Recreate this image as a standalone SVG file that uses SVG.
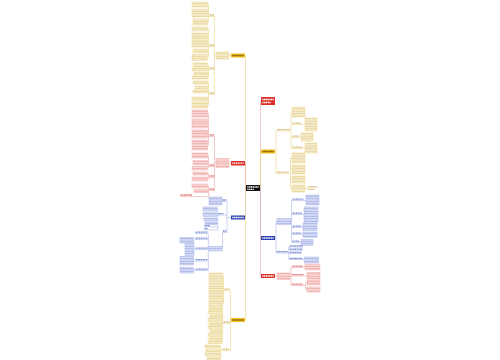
<svg xmlns="http://www.w3.org/2000/svg" width="500" height="360" viewBox="0 0 500 360">
<defs>
<pattern id="py" width="2" height="2.5" patternUnits="userSpaceOnUse"><rect width="2" height="2.5" fill="#fdf8e3"/><rect x=".25" y=".55" width="1.5" height="1.4" fill="#c9a345" opacity=".6"/></pattern>
<pattern id="pr" width="2" height="2.5" patternUnits="userSpaceOnUse"><rect width="2" height="2.5" fill="#fdefef"/><rect x=".25" y=".55" width="1.5" height="1.4" fill="#d9534f" opacity=".6"/></pattern>
<pattern id="pb" width="2" height="2.5" patternUnits="userSpaceOnUse"><rect width="2" height="2.5" fill="#eef1fd"/><rect x=".25" y=".55" width="1.5" height="1.4" fill="#4a62c8" opacity=".6"/></pattern>
<pattern id="ty" width="2" height="2.5" patternUnits="userSpaceOnUse"><rect x=".25" y=".55" width="1.5" height="1.4" fill="#c9a345" opacity=".6"/></pattern>
</defs>
<style>
.y{fill:url(#py);stroke:#eed98f;stroke-width:.5}
.r{fill:url(#pr);stroke:#f1aeac;stroke-width:.5}
.b{fill:url(#pb);stroke:#a9b5ea;stroke-width:.5}
.c{fill:none;stroke-width:.6}
.cy{stroke:#ecd486}.cr{stroke:#eea4a2}.cb{stroke:#a6b2e8}
.l{fill:none;stroke-width:1.3;stroke-dasharray:1.3 .45}
.ly{stroke:#c7a24a;opacity:.75}.lr{stroke:#d44a46;opacity:.75}.lb{stroke:#4660c6;opacity:.75}
.lw{stroke:#fff}.lk{stroke:#5a4300;opacity:.8}
.n1y{fill:#f4c01e}.n1r{fill:#d8322a}.n1b{fill:#2a3fb0}
</style>
<rect width="500" height="360" fill="#fff"/>

<g id="connectors">
<path class="c cy" d="M246,188 H245.5 V55.5 H245"/>
<path class="c cr" d="M246,188 H245.5 V163.2 H245"/>
<path class="c cb" d="M246,188 H245.5 V217.5 H245"/>
<path class="c cy" d="M246,188 H245.5 V320 H245"/>
<path class="c cr" d="M260,188 H260.5 V101 H261"/>
<path class="c cy" d="M260,188 H260.5 V151.5 H261"/>
<path class="c cb" d="M260,188 H260.5 V238 H261"/>
<path class="c cr" d="M260,188 H260.5 V276 H261"/>

<path class="c cy" d="M231,55.5 H229 M216,55.5 H214.5 M214.5,16.5 V94.5 M209,16.5 H214.5 M209,46.5 H214.5 M209,69.5 H214.5 M209,94.5 H214.5"/>
<path class="c cy" d="M207.5,4.5 H208.5 V22 H207.5 M208.5,13 H207.5 M208.5,16.5 H209"/>
<path class="c cy" d="M207.5,29 H208.5 V57.5 H207.5 M208.5,36 H207.5 M208.5,43.5 H207.5 M208.5,51 H207.5 M208.5,46.5 H209"/>
<path class="c cy" d="M207.5,65 H208.5 V77.5 H207.5 M208.5,69.5 H207.5 M208.5,73.5 H207.5 M208.5,69.5 H209"/>
<path class="c cy" d="M207.5,82.5 H208.5 V105 H207.5 M208.5,87.5 H207.5 M208.5,91.5 H207.5 M208.5,99 H207.5 M208.5,94.5 H209"/>

<path class="c cr" d="M231,163 H229 M216,163 H214.5 M214.5,136.5 V190.5 M209,136.5 H214.5 M209,166.5 H214.5 M209,177.5 H214.5 M209,190.5 H214.5"/>
<path class="c cr" d="M207.5,113.5 H208.5 V145 H207.5 M208.5,123.5 H207.5 M208.5,134 H207.5 M208.5,136.5 H209"/>
<path class="c cr" d="M207.5,155.5 H208.5 V168.2 H207.5 M208.5,162.7 H207.5 M208.5,166.5 H209"/>
<path class="c cr" d="M207.5,173.5 H208.5 V179 H207.5 M208.5,177.5 H209"/>
<path class="c cr" d="M207.5,186 H208.5 V196.4 M208.5,191 H207.5 M208.5,190.5 H209 M180,196.4 H208.5"/>

<path class="c cb" d="M231,217.5 H227 M227,201.5 V232.5 M222,201.5 H227 M218,215 H227 M222.5,232.5 H227"/>
<path class="c cb" d="M217,209 H217.8 V229.8 M217.8,214.5 H217 M217.8,219.5 H217 M217.8,223.3 H217 M217.8,215 H218 M204,226.8 H217.8 M204,229.8 H217.8"/>
<path class="c cb" d="M222.5,232.5 V248.7 H222 M209,248.7 H208.3 M208.3,233.5 V270.5 M195,233.5 H208.3 M195,239.5 H208.3 M195,249.5 H208.3 M195,261 H208.3 M195,270.5 H208.3"/>
<path class="c cb" d="M193.5,240 H195 M194,249.5 H195 M193.5,261 H195 M193.5,270.3 H195"/>

<path class="c cy" d="M231,320 H230.5 M230.5,290.5 V350.5 M224,290.5 H230.5 M223,323.3 H230.5 M222,350.5 H230.5"/>
<path class="c cy" d="M223,276.8 H223.6 V302.2 H223 M223.6,285.2 H223 M223.6,293.8 H223 M223.6,290.5 H224"/>
<path class="c cy" d="M222,308 H222.6 V342.2 H222 M222.6,311.8 H222 M222.6,315.6 H222 M222.6,319.4 H222 M222.6,323.2 H222 M222.6,327 H222 M222.6,330.8 H222 M222.6,334.6 H222 M222.6,338.4 H222 M222.6,323.3 H223"/>
<path class="c cy" d="M220,346.5 H221 V358.4 H220 M221,350.5 H220 M221,354.5 H220 M221,350.5 H222"/>

<path class="c cy" d="M275,151.5 H276 M276,131 V173.5 M276,131 H291 M291,112 V148.5 M291,112 H292 M291,124.5 H302 M302,124.5 H305 M291,137.5 H299.5 M299.5,137.5 H301 M291,148.5 H303 M303,148.5 H305"/>
<path class="c cy" d="M276,173.5 H290.5 M290.5,158 V188.5 M290.5,158 H292 M290.5,169.5 H292 M290.5,179.5 H292 M290.5,188.5 H292 M305,188.5 H307"/>

<path class="c cb" d="M275,238 H276 M276,221.5 V253 M276,221.5 H277 M276,253 H288 M291,221.5 H291.6 M291.6,200.5 V242.5"/>
<path class="c cb" d="M291.6,200.5 H304 M304,200.5 H306 M291.6,214.5 H302.5 M302.5,214.5 H304 M291.6,227.5 H302 M302,227 H303 M291.6,234.5 H302 M302,234.8 H303 M291.6,242.5 H300 M300,242.3 H301"/>
<path class="c cb" d="M288,253 H288.8 M288.8,247 V259.5 M288.8,247 H303 M288.8,250.2 H303 M288.8,253.4 H302 M288.8,259.5 H303 M303,259.8 H304.5"/>

<path class="c cr" d="M275,276 H277 M290,276 H291 M291,267.5 V285.5 M291,267.5 H303.5 M303.5,267 H305 M291,276 H304 M304,275.8 H307 M291,285.5 H305.5 M305.5,282.5 V289.5 H307 M305.5,282.5 H307"/>
</g>

<g id="root"><rect x="246" y="185" width="14" height="6" fill="#111"/><path class="l lw" d="M247.3,187 H258.7 M247.3,189.3 H254"/></g>

<g id="n-yl1"><rect class="n1y" x="231" y="53.5" width="14" height="4"/><path class="l lk" d="M232.3,55.5 H243.7"/></g>
<g id="n-yl1a"><rect class="y" x="216" y="52" width="13" height="7"/></g>
<g id="lab-yl1a"><path class="l ly" d="M209.5,15 H214"/></g>
<g id="lab-yl1b"><path class="l ly" d="M209.5,45 H214"/></g>
<g id="lab-yl1c"><path class="l ly" d="M209.5,68 H214"/></g>
<g id="lab-yl1d"><path class="l ly" d="M209.5,93 H214"/></g>
<g id="yl1-leaves">
<g id="yl1-01"><rect class="y" x="192" y="2" width="15.5" height="5"/></g>
<g id="yl1-02"><rect class="y" x="192" y="9" width="15.5" height="8"/></g>
<g id="yl1-03"><rect class="y" x="193" y="19" width="14.5" height="6"/></g>
<g id="yl1-04"><rect class="y" x="192" y="27" width="15.5" height="4"/></g>
<g id="yl1-05"><rect class="y" x="192" y="33" width="15.5" height="6"/></g>
<g id="yl1-06"><rect class="y" x="192" y="40" width="15.5" height="7"/></g>
<g id="yl1-07"><rect class="y" x="193" y="49" width="14.5" height="4"/></g>
<g id="yl1-08"><rect class="y" x="192" y="54.5" width="15.5" height="6"/></g>
<g id="yl1-09"><rect class="y" x="193" y="63" width="14.5" height="4"/></g>
<g id="yl1-10"><rect class="y" x="192" y="68" width="15.5" height="3"/></g>
<g id="yl1-11"><rect class="y" x="194" y="72" width="13.5" height="3"/></g>
<g id="yl1-12"><rect class="y" x="192" y="76" width="15.5" height="3"/></g>
<g id="yl1-13"><rect class="y" x="193" y="81" width="14.5" height="3"/></g>
<g id="yl1-14"><rect class="y" x="195" y="86" width="12.5" height="3"/></g>
<g id="yl1-15"><rect class="y" x="193" y="90" width="14.5" height="3"/></g>
<g id="yl1-16"><rect class="y" x="192" y="97" width="15.5" height="4"/></g>
<g id="yl1-17"><rect class="y" x="192" y="102" width="15.5" height="6"/></g>
</g>

<g id="n-rl1"><rect class="n1r" x="231" y="161" width="14" height="4.5"/><path class="l lw" d="M232.3,163.2 H243.7"/></g>
<g id="n-rl1a"><rect class="r" x="216" y="158.5" width="13" height="9"/></g>
<g id="lab-rl1a"><path class="l lr" d="M209.5,135 H214"/></g>
<g id="lab-rl1b"><path class="l lr" d="M209.5,165 H214"/></g>
<g id="lab-rl1c"><path class="l lr" d="M209.5,176 H214"/></g>
<g id="lab-rl1d"><path class="l lr" d="M209.5,189 H214"/></g>
<g id="lab-rl1e"><path class="l lr" d="M180.5,195 H192"/></g>
<g id="rl1-leaves">
<g id="rl1-01"><rect class="r" x="192" y="110" width="15.5" height="7"/></g>
<g id="rl1-02"><rect class="r" x="192" y="119" width="15.5" height="9"/></g>
<g id="rl1-03"><rect class="r" x="192" y="130" width="15.5" height="8"/></g>
<g id="rl1-04"><rect class="r" x="192" y="140" width="15.5" height="10"/></g>
<g id="rl1-05"><rect class="r" x="192" y="153" width="15.5" height="5"/></g>
<g id="rl1-06"><rect class="r" x="193" y="160.5" width="14.5" height="4.5"/></g>
<g id="rl1-07"><rect class="r" x="192" y="166.5" width="15.5" height="3.5"/></g>
<g id="rl1-08"><rect class="r" x="193" y="172" width="14.5" height="3"/></g>
<g id="rl1-09"><rect class="r" x="192" y="177" width="15.5" height="4"/></g>
<g id="rl1-10"><rect class="r" x="192" y="184" width="15.5" height="4"/></g>
<g id="rl1-11"><rect class="r" x="194" y="189.5" width="13.5" height="3"/></g>
</g>

<g id="n-bl1"><rect class="n1b" x="231" y="215.5" width="14" height="4"/><path class="l lw" d="M232.3,217.5 H243.7"/></g>
<g id="lab-bl1a"><path class="l lb" d="M222.5,200 H226.5"/></g>
<g id="lab-bl1b"><path class="l lb" d="M218.5,213.6 H223.5"/></g>
<g id="lab-bl1c"><path class="l lb" d="M223,231 H226.5"/></g>
<g id="bl1-a1"><rect class="b" x="209" y="197" width="13" height="8"/></g>
<g id="bl1-b1"><rect class="b" x="203" y="207" width="14" height="4"/></g>
<g id="bl1-b2"><rect class="b" x="203" y="212.8" width="14" height="3.5"/></g>
<g id="bl1-b3"><rect class="b" x="204" y="218" width="13" height="3"/></g>
<g id="bl1-b4"><rect class="b" x="205" y="222" width="12" height="2.6"/></g>
<g id="bl1-b5"><path class="l lb" d="M204.5,225.6 H210"/></g>
<g id="bl1-b6"><path class="l lb" d="M204.5,228.6 H208"/></g>
<g id="bl1-c1"><rect class="b" x="209" y="246.5" width="13" height="4.5"/></g>
<g id="bl1-c1a"><path class="l lb" d="M195.5,232.2 H207.5"/></g>
<g id="bl1-c1b"><path class="l lb" d="M195.5,238.2 H207.5"/></g>
<g id="bl1-c1c"><path class="l lb" d="M195.5,248.2 H207.5"/></g>
<g id="bl1-c1d"><path class="l lb" d="M195.5,259.7 H207.5"/></g>
<g id="bl1-c1e"><path class="l lb" d="M195.5,269.2 H207.5"/></g>
<g id="bl1-d1"><rect class="b" x="180" y="237.5" width="13.5" height="5.5"/></g>
<g id="bl1-d2"><rect class="b" x="185" y="243.5" width="9" height="12"/></g>
<g id="bl1-d3"><rect class="b" x="180" y="256.5" width="13.5" height="8.5"/></g>
<g id="bl1-d4"><rect class="b" x="180" y="267.5" width="13.5" height="5.5"/></g>

<g id="n-yl2"><rect class="n1y" x="231" y="318" width="14" height="4"/><path class="l lk" d="M232.3,320 H243.7"/></g>
<g id="lab-yl2a"><path class="l ly" d="M224.5,289.2 H229.5"/></g>
<g id="lab-yl2b"><path class="l ly" d="M223.5,322 H229.5"/></g>
<g id="lab-yl2c"><path class="l ly" d="M222.5,349.2 H229.5"/></g>
<g id="yl2-leaves">
<g id="yl2-01"><rect class="y" x="209" y="273" width="14" height="7.5"/></g>
<g id="yl2-02"><rect class="y" x="209" y="281.5" width="14" height="7.5"/></g>
<g id="yl2-03"><rect class="y" x="209" y="290" width="14" height="7.5"/></g>
<g id="yl2-04"><rect class="y" x="209" y="298.5" width="14" height="7.5"/></g>
<g id="yl2-05"><rect class="y" x="209" y="306.5" width="13" height="3"/></g>
<g id="yl2-06"><rect class="y" x="208" y="310.3" width="14" height="3"/></g>
<g id="yl2-07"><rect class="y" x="210" y="314.1" width="12" height="3"/></g>
<g id="yl2-08"><rect class="y" x="208" y="317.9" width="14" height="3"/></g>
<g id="yl2-09"><rect class="y" x="209" y="321.7" width="13" height="3"/></g>
<g id="yl2-10"><rect class="y" x="208" y="325.5" width="14" height="3"/></g>
<g id="yl2-11"><rect class="y" x="210" y="329.3" width="12" height="3"/></g>
<g id="yl2-12"><rect class="y" x="208" y="333.1" width="14" height="3"/></g>
<g id="yl2-13"><rect class="y" x="209" y="336.9" width="13" height="3"/></g>
<g id="yl2-14"><rect class="y" x="208" y="340.7" width="14" height="3"/></g>
<g id="yl2-15"><rect class="y" x="205" y="345" width="15" height="3"/></g>
<g id="yl2-16"><rect class="y" x="206" y="349" width="14" height="3"/></g>
<g id="yl2-17"><rect class="y" x="205" y="353" width="15" height="3"/></g>
<g id="yl2-18"><rect class="y" x="207" y="357" width="13" height="2.8"/></g>
</g>

<g id="n-rr1"><rect class="n1r" x="261" y="97" width="14" height="8"/><path class="l lw" d="M262.3,99.5 H273.7 M262.3,102.5 H271"/></g>

<g id="n-yr1"><rect class="n1y" x="261" y="149.5" width="14" height="4"/><path class="l lk" d="M262.3,151.5 H273.7"/></g>
<g id="lab-yr1a"><path class="l ly" d="M277,129.6 H290"/></g>
<g id="lab-yr1b"><path class="l ly" d="M277,172.2 H288.5"/></g>
<g id="yr1-a1"><rect class="y" x="292" y="107" width="13" height="10"/></g>
<g id="lab-yr1a2"><path class="l ly" d="M292.5,123.2 H301.5"/></g>
<g id="yr1-a2"><rect class="y" x="305" y="118" width="12" height="13"/></g>
<g id="lab-yr1a3"><path class="l ly" d="M292.5,136.2 H299"/></g>
<g id="yr1-a3"><rect class="y" x="301" y="133" width="12" height="8"/></g>
<g id="lab-yr1a4"><path class="l ly" d="M292.5,147.2 H302.5"/></g>
<g id="yr1-a4"><rect class="y" x="305" y="143" width="12" height="10"/></g>
<g id="yr1-b1"><rect class="y" x="292" y="153" width="13" height="10"/></g>
<g id="yr1-b2"><rect class="y" x="292" y="165" width="13" height="9"/></g>
<g id="yr1-b3"><rect class="y" x="292" y="176" width="13" height="7"/></g>
<g id="yr1-b4"><rect class="y" x="292" y="185" width="13" height="7"/></g>
<g id="yr1-b5"><path class="l ly" d="M307.5,186.8 H318 M307.5,189.4 H315"/></g>

<g id="n-br1"><rect class="n1b" x="261" y="236" width="14" height="4"/><path class="l lw" d="M262.3,238 H273.7"/></g>
<g id="br1-a"><rect class="b" x="277" y="218.5" width="14" height="6"/></g>
<g id="lab-br1b"><path class="l lb" d="M277,251.7 H288"/></g>
<g id="lab-br1a1"><path class="l lb" d="M292.5,199.2 H303.5"/></g>
<g id="br1-a1"><rect class="b" x="306" y="195" width="13" height="10"/></g>
<g id="lab-br1a2"><path class="l lb" d="M292.5,213.2 H302"/></g>
<g id="br1-a2"><rect class="b" x="304" y="207" width="14" height="15"/></g>
<g id="lab-br1a3"><path class="l lb" d="M292.5,226.2 H301.5"/></g>
<g id="br1-a3"><rect class="b" x="303" y="223" width="14" height="8"/></g>
<g id="lab-br1a4"><path class="l lb" d="M292.5,233.2 H301.5"/></g>
<g id="br1-a4"><rect class="b" x="303" y="232.3" width="14" height="5"/></g>
<g id="lab-br1a5"><path class="l lb" d="M292.5,241.2 H299.5"/></g>
<g id="br1-a5"><rect class="b" x="301" y="239.3" width="12" height="6"/></g>
<g id="lab-br1b1"><path class="l lb" d="M289.5,245.9 H302.5"/></g>
<g id="lab-br1b2"><path class="l lb" d="M289.5,249.1 H302.5"/></g>
<g id="lab-br1b3"><path class="l lb" d="M289.5,252.3 H301.5"/></g>
<g id="lab-br1b4"><path class="l lb" d="M289.5,258.4 H302.5"/></g>
<g id="br1-b4"><rect class="b" x="304.5" y="257" width="14" height="6"/></g>

<g id="n-rr2"><rect class="n1r" x="261" y="274" width="14" height="4"/><path class="l lw" d="M262.3,276 H273.7"/></g>
<g id="rr2-a"><rect class="r" x="277" y="273" width="13" height="6.5"/></g>
<g id="lab-rr2a1"><path class="l lr" d="M292,266.2 H303"/></g>
<g id="rr2-a1"><rect class="r" x="305" y="264" width="15" height="6"/></g>
<g id="lab-rr2a2"><path class="l lr" d="M292,274.7 H303.5"/></g>
<g id="rr2-a2"><rect class="r" x="307" y="272.5" width="13" height="6.5"/></g>
<g id="lab-rr2a3"><path class="l lr" d="M292,284.2 H303"/></g>
<g id="rr2-a3"><rect class="r" x="307" y="280" width="13" height="5"/></g>
<g id="rr2-a4"><rect class="r" x="307" y="287" width="13" height="5"/></g>
</svg>
